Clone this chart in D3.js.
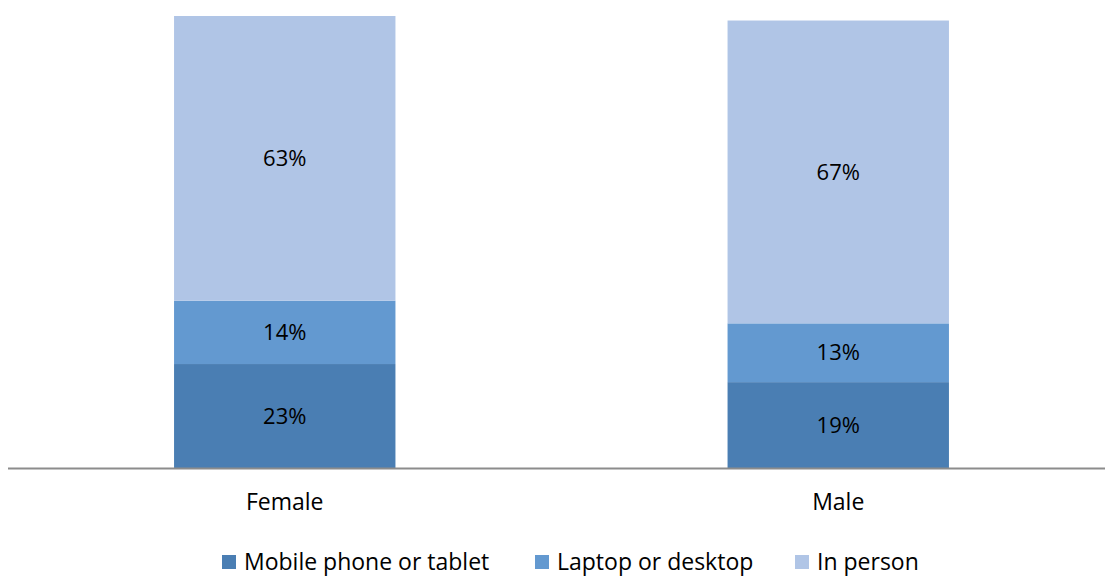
<!DOCTYPE html>
<html>
<head>
	<meta charset="utf-8">
	<title>Stacked bars</title>
	<script src="https://cdn.jsdelivr.net/npm/d3@7"></script>
	<style>
		body { margin: 0; background: #fff; font-family: "Open Sans", Lato, sans-serif; }
	</style>
</head>
<body>
	<div id="chart"></div>
	<script>
		// data
		const categories = ["Female", "Male"];
		const seriesNames = ["Mobile phone or tablet", "Laptop or desktop", "In person"];
		const mobile = [23, 19];
		const laptop = [14, 13];
		const inPerson = [63, 67];
		const colors = ["#4a7eb3", "#6399d0", "#b0c5e6"];

		const width = 1105, height = 579;
		const fontSize = "22px";
		const axisFontSize = "23px";
		const fontFamily = "'Open Sans', Lato, sans-serif";

		const rows = categories.map((c, i) => ({
			cat: c,
			"Mobile phone or tablet": mobile[i],
			"Laptop or desktop": laptop[i],
			"In person": inPerson[i]
		}));

		const stack = d3.stack().keys(seriesNames)(rows);

		const x = d3.scaleBand(categories, [8, 1115])
			.paddingInner(0.6)
			.paddingOuter(0.3);
		const y = d3.scaleLinear([0, 100], [468, 16]);
		const color = d3.scaleOrdinal(seriesNames, colors);

		const svg = d3.select("#chart").append("svg")
			.attr("width", width)
			.attr("height", height)
			.attr("viewBox", [0, 0, width, height]);

		const layer = svg.append("g")
			.selectAll("g")
			.data(stack)
			.join("g")
			.attr("fill", d => color(d.key));

		layer.selectAll("rect")
			.data(d => d)
			.join("rect")
			.attr("x", d => x(d.data.cat))
			.attr("y", d => y(d[1]))
			.attr("height", d => y(d[0]) - y(d[1]))
			.attr("width", x.bandwidth());

		// value labels
		svg.append("g")
			.selectAll("g")
			.data(stack)
			.join("g")
			.selectAll("text")
			.data(d => d)
			.join("text")
			.attr("x", d => x(d.data.cat) + x.bandwidth() / 2)
			.attr("y", d => (y(d[0]) + y(d[1])) / 2)
			.attr("dy", "0.35em")
			.attr("text-anchor", "middle")
			.style("font-size", fontSize)
			.attr("fill", "#000")
			.text(d => (d[1] - d[0]) + "%");

		// x axis
		svg.append("g")
			.attr("transform", `translate(0,${y(0)})`)
			.call(d3.axisBottom(x).tickSize(0).tickPadding(26))
			.call(g => g.select(".domain").remove())
			.call(g => g.selectAll("text").style("font-size", axisFontSize).attr("fill", "#000")
				.style("font-family", fontFamily));

		svg.append("line")
			.attr("x1", 8).attr("x2", width)
			.attr("y1", y(0) + 0.5).attr("y2", y(0) + 0.5)
			.attr("stroke", "#8c8c8c")
			.attr("stroke-width", 2);

		// legend
		const legendX = [222, 535, 795];
		const legend = svg.append("g")
			.selectAll("g")
			.data(seriesNames)
			.join("g")
			.attr("transform", (d, i) => `translate(${legendX[i]},562)`);

		legend.append("rect")
			.attr("x", 0).attr("y", -7)
			.attr("width", 14).attr("height", 14)
			.attr("fill", d => color(d));

		legend.append("text")
			.attr("x", 22)
			.attr("dy", "0.35em")
			.style("font-size", axisFontSize)
			.attr("fill", "#000")
			.text(d => d);
	</script>
</body>
</html>
